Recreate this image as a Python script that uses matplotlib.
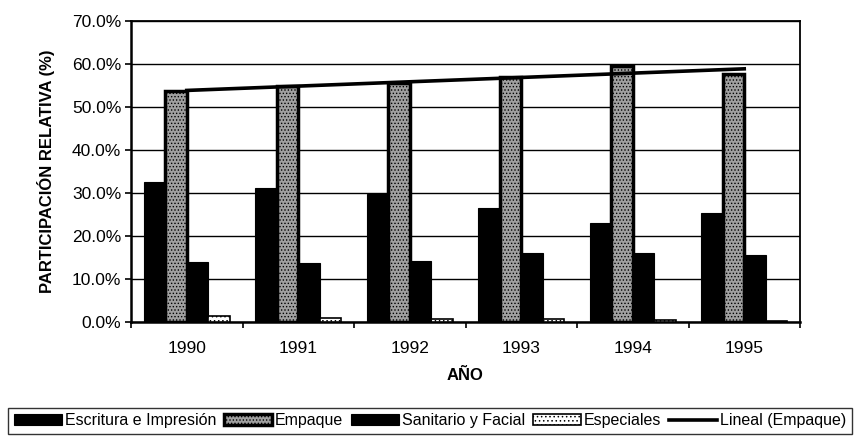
import matplotlib
matplotlib.use("Agg")
import matplotlib.pyplot as plt
import numpy as np

# Values (participación relativa, %)
years = ["1990", "1991", "1992", "1993", "1994", "1995"]
escritura = [32.5, 31.2, 29.7, 26.4, 23.0, 25.4]
empaque = [53.7, 54.9, 55.5, 56.9, 59.5, 57.7]
sanitario = [13.9, 13.8, 14.1, 16.1, 16.1, 15.5]
especiales = [1.4, 0.9, 0.7, 0.6, 0.4, 0.3]

yticks = [0, 10, 20, 30, 40, 50, 60, 70]

plt.rcParams['font.family'] = ['Liberation Sans', 'DejaVu Sans']
plt.rcParams['hatch.linewidth'] = 0.6

fig = plt.figure(figsize=(8.57, 4.37), dpi=100)
ax = fig.add_axes([131 / 857, 1 - 322 / 437, (800 - 131) / 857, (322 - 21) / 437])

x = np.arange(len(years))
w = 0.192

# Bars
b1 = ax.bar(x - 1.5 * w, escritura, w, color='black', edgecolor='black', linewidth=0.8,
            label='Escritura e Impresión', zorder=3)
b2 = ax.bar(x - 0.5 * w, empaque, w, color='#a0a0a0', edgecolor='black', hatch='.....',
            linewidth=2.5, label='Empaque', zorder=3)
b3 = ax.bar(x + 0.5 * w, sanitario, w, color='black', edgecolor='black', linewidth=0.8,
            label='Sanitario y Facial', zorder=3)
b4 = ax.bar(x + 1.5 * w, especiales, w, color='white', edgecolor='black', hatch='....',
            linewidth=1.2, label='Especiales', zorder=3)

# Linear trend line of Empaque (Excel "Lineal")
coef = np.polyfit(x, empaque, 1)
ln, = ax.plot(x, np.polyval(coef, x), color='black', linewidth=2.6, label='Lineal (Empaque)', zorder=4)

# Axes styling
ax.set_xlim(-0.5, len(years) - 0.5)
ax.set_ylim(0, 70)
ax.set_yticks(yticks)
ax.set_yticklabels([f"{v:.1f}%" for v in yticks], fontsize=12.5)
ax.set_xticks(x)
ax.set_xticklabels(years, fontsize=12.5)
ax.set_xticks(np.arange(len(years) + 1) - 0.5, minor=True)
ax.tick_params(axis='x', which='major', length=0, pad=14)
ax.tick_params(axis='x', which='minor', length=4, width=1.2, direction='out')
ax.tick_params(axis='y', length=4, width=1.2, direction='out', pad=3)

ax.grid(axis='y', color='black', linewidth=1.0, zorder=0)
ax.set_axisbelow(True)
for side in ['left', 'bottom']:
    ax.spines[side].set_linewidth(1.8)
ax.spines['top'].set_linewidth(1.3)
ax.spines['right'].set_linewidth(1.3)

ax.set_ylabel('PARTICIPACIÓN RELATIVA (%)', fontsize=12, fontweight='bold', labelpad=12)
ax.set_xlabel('AÑO', fontsize=12, fontweight='bold', labelpad=8)

# Legend along the bottom
leg = fig.legend(handles=[b1, b2, b3, b4, ln],
                 loc='upper left', bbox_to_anchor=(8 / 857, 1 - 412 / 437, 844 / 857, 0.01),
                 ncol=5, mode='expand', fontsize=11.5, frameon=True, fancybox=False,
                 borderaxespad=0, handlelength=3.0, handletextpad=0.2, columnspacing=0.4,
                 borderpad=0.35)
leg.get_frame().set_edgecolor('black')
leg.get_frame().set_linewidth(1.0)

fig.savefig('out.png', dpi=100)
